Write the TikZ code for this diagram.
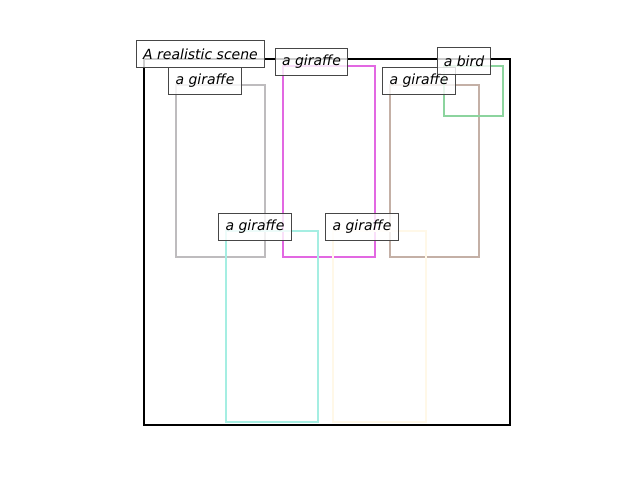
\documentclass[tikz,border=0pt]{standalone}
\usepackage{fontspec}
\setmainfont{DejaVu Sans}
\definecolor{cgray}{RGB}{190,188,190}
\definecolor{cmag}{RGB}{226,104,226}
\definecolor{cbrown}{RGB}{196,176,166}
\definecolor{cgreen}{RGB}{140,212,158}
\definecolor{ccyan}{RGB}{165,238,226}
\definecolor{ccream}{RGB}{255,248,232}
\definecolor{cedge}{RGB}{70,70,70}
\tikzset{
  lbl/.style={draw=cedge, line width=0.75pt, fill=white, fill opacity=0.8, text opacity=1,
    font=\fontsize{10.5}{12}\selectfont\itshape, inner xsep=5pt, inner ysep=0pt,
    minimum height=20pt, anchor=center},
  bx/.style={line width=1.9pt},
}
\begin{document}
\begin{tikzpicture}[x=0.75pt,y=-0.75pt]
\useasboundingbox (0,0) rectangle (640,480);
% scene frame
\draw[line width=1.9pt, black] (144,59) rectangle (510,425);
% object boxes
\draw[bx, cgray] (176,85) rectangle (265,257);
\draw[bx, cmag] (283,66) rectangle (375,257);
\draw[bx, cbrown] (390,85) rectangle (479,257);
\draw[bx, cgreen] (444,66) rectangle (503,116);
\draw[bx, ccyan] (226,231) rectangle (318,422);
\draw[bx, ccream] (333,231) rectangle (426,422);
% labels
\node[lbl] (scene) at (200.5,54) {A realistic scene};
\node[lbl] (g1) at (205,81) {a giraffe};
\node[lbl] (g2) at (311.5,62) {a giraffe};
\node[lbl] (g3) at (419,81) {a giraffe};
\node[lbl] (bird) at (464,61) {a bird};
\node[lbl] (g4) at (255,227) {a giraffe};
\node[lbl] (g5) at (362,227) {a giraffe};
\end{tikzpicture}
\end{document}
